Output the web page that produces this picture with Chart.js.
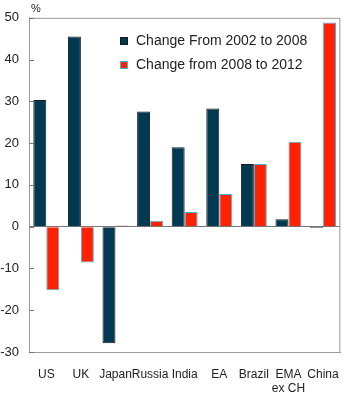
<!DOCTYPE html>
<html>
<head>
<meta charset="utf-8">
<script src="https://cdn.jsdelivr.net/npm/chart.js@4/dist/chart.umd.min.js"></script>
<style>
  html, body { margin: 0; padding: 0; background: #fff; }
  #wrap { width: 354px; height: 401px; position: relative; }
</style>
</head>
<body>
<div id="wrap"><canvas id="c"></canvas></div>
<script>
"use strict";

const categories = ["US", "UK", "Japan", "Russia", "India", "EA", "Brazil", ["EMA", "ex CH"], "China"];
const change0208 = [30.3, 45.5, -27.9, 27.6, 19.0, 28.3, 15.0, 1.8, -0.3];
const change0812 = [-15.2, -8.6, 0.3, 1.4, 3.5, 7.8, 15.0, 20.3, 48.9];
const seriesNames = ["Change From 2002 to 2008", "Change from 2008 to 2012"];
const yTicks = [-30, -20, -10, 0, 10, 20, 30, 40, 50];

const FONT = "'Liberation Sans', Arial, sans-serif";

// inside tick marks, full box, "%" unit and the legend inside the plot
const decor = {
  id: "decor",
  afterDraw(chart) {
    const { ctx, chartArea: a, scales } = chart;
    ctx.save();
    ctx.strokeStyle = "#999";
    ctx.lineWidth = 1;
    ctx.strokeRect(a.left + 0.5, a.top + 0.5, a.right - a.left - 1, a.bottom - a.top);
    ctx.strokeStyle = "#777";
    yTicks.forEach((v) => {
      const y = Math.round(scales.y.getPixelForValue(v)) + 0.5;
      ctx.beginPath(); ctx.moveTo(a.left, y); ctx.lineTo(a.left + 5, y); ctx.stroke();
    });
    ctx.fillStyle = "#222";
    ctx.font = "11px " + FONT;
    ctx.textBaseline = "alphabetic";
    ctx.fillText("%", 31, 12);

    // legend
    ctx.font = "14px " + FONT;
    ctx.textBaseline = "middle";
    chart.data.datasets.forEach((ds, i) => {
      const y = 41 + i * 24;
      ctx.fillStyle = ds.backgroundColor;
      ctx.fillRect(120, y - 4, 8, 8);
      ctx.strokeStyle = ds.borderColor;
      ctx.strokeRect(120.5, y - 3.5, 7, 7);
      ctx.fillStyle = "#222";
      ctx.fillText(ds.label, 136, y);
    });
    ctx.restore();
  },
};

new Chart(document.getElementById("c"), {
  type: "bar",
  data: {
    labels: categories,
    datasets: [
      { label: seriesNames[0], data: change0208, backgroundColor: "#003a52", borderColor: "#1a1a1a", borderWidth: 1 },
      { label: seriesNames[1], data: change0812, backgroundColor: "#ff2200", borderColor: "#3fb6e6", borderWidth: 1 },
    ],
  },
  options: {
    responsive: true,
    maintainAspectRatio: false,
    animation: false,
    layout: { padding: { top: 16, right: 5, left: 0, bottom: 0 } },
    plugins: { legend: { display: false }, tooltip: { enabled: false } },
    datasets: { bar: { categoryPercentage: 0.75, barPercentage: 1 } },
    scales: {
      x: {
        grid: { display: false, drawTicks: false },
        border: { display: true, color: "#999" },
        ticks: { color: "#222", font: { family: FONT, size: 12 }, padding: 15, maxRotation: 0, autoSkip: false },
        afterFit(s) { s.height = 49; },
      },
      y: {
        min: -30, max: 50,
        grid: { drawTicks: false, color: (c) => (c.tick && c.tick.value === 0 ? "#777" : "transparent") },
        border: { display: true, color: "#999" },
        ticks: { stepSize: 10, color: "#222", font: { family: FONT, size: 13 }, padding: 10 },
        afterFit(s) { s.width = 29; },
      },
    },
  },
  plugins: [decor],
});
</script>
</body>
</html>
